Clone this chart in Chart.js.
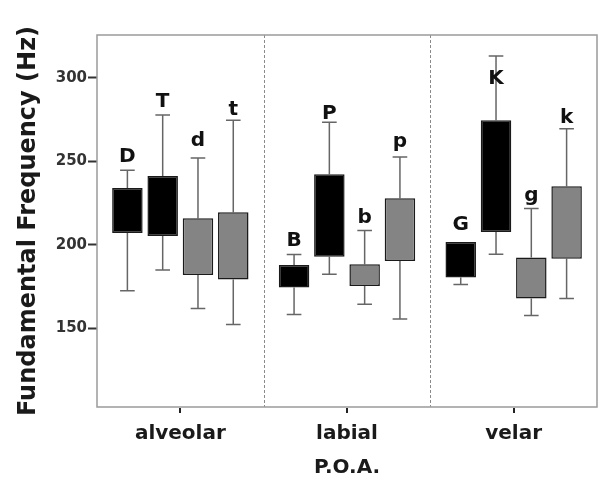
<!DOCTYPE html>
<html>
<head>
<meta charset="utf-8">
<script src="https://cdn.jsdelivr.net/npm/chart.js@4"></script>
<style>
html,body{margin:0;padding:0;background:#fff;}
#wrap{width:600px;height:480px;}
</style>
</head>
<body>
<div id="wrap"><canvas id="c" width="600" height="480"></canvas></div>
<script>
// Categories (place of articulation)
const categories = ['alveolar', 'labial', 'velar'];
const yTickValues = [150, 200, 250, 300];

// Series 1: voiced uppercase (black)
const s1Labels = ['D', 'B', 'G'];
const s1Q1 = [207, 174.5, 180.5];
const s1Q3 = [234, 188, 201.7];
const s1Min = [172.5, 158.3, 176.3];
const s1Max = [244.6, 194.2, 201.7];
const s1LabelAt = [252.5, 202.7, 211.7];

// Series 2: voiceless uppercase (black)
const s2Labels = ['T', 'P', 'K'];
const s2Q1 = [205.3, 192.8, 207.7];
const s2Q3 = [241.2, 242.2, 274.5];
const s2Min = [185, 182.4, 194.4];
const s2Max = [277.6, 273.3, 312.9];
const s2LabelAt = [285.4, 278.5, 299.4];

// Series 3: voiced lowercase (grey)
const s3Labels = ['d', 'b', 'g'];
const s3Q1 = [182, 175.3, 167.9];
const s3Q3 = [215.9, 188.4, 192.4];
const s3Min = [161.9, 164.5, 157.7];
const s3Max = [252, 208.5, 221.7];
const s3LabelAt = [262.5, 216.3, 229.6];

// Series 4: voiceless lowercase (grey)
const s4Labels = ['t', 'p', 'k'];
const s4Q1 = [179.3, 190.4, 191.6];
const s4Q3 = [219.5, 227.9, 235];
const s4Min = [152.4, 155.7, 167.9];
const s4Max = [274.5, 252.5, 269.5];
const s4LabelAt = [280.5, 261.5, 276.1];

const seriesList = [
  {labels: s1Labels, q1: s1Q1, q3: s1Q3, min: s1Min, max: s1Max, at: s1LabelAt, color: '#000000'},
  {labels: s2Labels, q1: s2Q1, q3: s2Q3, min: s2Min, max: s2Max, at: s2LabelAt, color: '#000000'},
  {labels: s3Labels, q1: s3Q1, q3: s3Q3, min: s3Min, max: s3Max, at: s3LabelAt, color: '#848484'},
  {labels: s4Labels, q1: s4Q1, q3: s4Q3, min: s4Min, max: s4Max, at: s4LabelAt, color: '#848484'}
];

const FONT = "'DejaVu Sans', sans-serif";

const boxPlugin = {
  id: 'boxExtras',
  beforeDatasetsDraw(chart) {
    const ctx = chart.ctx;
    const x = chart.scales.x, y = chart.scales.y;
    const area = chart.chartArea;
    ctx.save();
    // dashed category dividers
    ctx.strokeStyle = '#8a8a8a';
    ctx.lineWidth = 1;
    ctx.setLineDash([3, 2]);
    for (let i = 0; i < categories.length - 1; i++) {
      const px = Math.round((x.getPixelForValue(i) + x.getPixelForValue(i + 1)) / 2) + 0.5;
      ctx.beginPath();
      ctx.moveTo(px, area.top);
      ctx.lineTo(px, area.bottom);
      ctx.stroke();
    }
    ctx.setLineDash([]);
    // whiskers
    ctx.strokeStyle = '#666666';
    ctx.lineWidth = 1.5;
    seriesList.forEach((s, di) => {
      const meta = chart.getDatasetMeta(di);
      meta.data.forEach((bar, i) => {
        const cx = bar.x;
        const half = bar.width * 0.24;
        const yMax = y.getPixelForValue(s.max[i]);
        const yMin = y.getPixelForValue(s.min[i]);
        const yQ3 = y.getPixelForValue(s.q3[i]);
        const yQ1 = y.getPixelForValue(s.q1[i]);
        ctx.beginPath();
        ctx.moveTo(cx, yMax); ctx.lineTo(cx, yQ3);
        ctx.moveTo(cx, yQ1); ctx.lineTo(cx, yMin);
        if (s.max[i] > s.q3[i]) { ctx.moveTo(cx - half, yMax); ctx.lineTo(cx + half, yMax); }
        ctx.moveTo(cx - half, yMin); ctx.lineTo(cx + half, yMin);
        ctx.stroke();
      });
    });
    ctx.restore();
  },
  afterDatasetsDraw(chart) {
    const ctx = chart.ctx;
    const x = chart.scales.x, y = chart.scales.y;
    const area = chart.chartArea;
    ctx.save();
    // labels
    ctx.fillStyle = '#111111';
    ctx.font = "bold 20px " + FONT;
    ctx.textAlign = 'center';
    ctx.textBaseline = 'middle';
    seriesList.forEach((s, di) => {
      const meta = chart.getDatasetMeta(di);
      meta.data.forEach((bar, i) => {
        ctx.fillText(s.labels[i], bar.x, y.getPixelForValue(s.at[i]));
      });
    });
    // frame
    ctx.strokeStyle = '#9a9a9a';
    ctx.lineWidth = 1.5;
    ctx.strokeRect(area.left, area.top, area.right - area.left, area.bottom - area.top);
    // x tick marks at category centres
    ctx.strokeStyle = '#222222';
    ctx.lineWidth = 2;
    for (let i = 0; i < categories.length; i++) {
      const px = Math.round(x.getPixelForValue(i));
      ctx.beginPath();
      ctx.moveTo(px, area.bottom + 1);
      ctx.lineTo(px, area.bottom + 6);
      ctx.stroke();
    }
    ctx.restore();
  }
};

const datasets = seriesList.map((s) => ({
  data: s.q1.map((v, i) => [v, s.q3[i]]),
  backgroundColor: s.color,
  borderColor: '#1a1a1a',
  borderWidth: 1.5,
  borderSkipped: false,
  categoryPercentage: 0.847,
  barPercentage: 0.864
}));

new Chart(document.getElementById('c'), {
  type: 'bar',
  data: {labels: categories, datasets: datasets},
  plugins: [boxPlugin],
  options: {
    responsive: false,
    animation: false,
    devicePixelRatio: 1,
    layout: {padding: {top: 35, right: 3, left: 0, bottom: 0}},
    plugins: {legend: {display: false}, tooltip: {enabled: false}},
    scales: {
      x: {
        type: 'category',
        grid: {display: false, drawTicks: false},
        border: {display: false},
        ticks: {color: '#1a1a1a', font: {family: FONT, size: 20, weight: 'bold'}, padding: 15},
        title: {display: true, text: 'P.O.A.', color: '#1a1a1a', font: {family: FONT, size: 20, weight: 'bold'}, padding: {top: 0, bottom: 0}},
        afterFit(s) { s.height = 73; }
      },
      y: {
        type: 'linear',
        min: 103,
        max: 325.5,
        grid: {drawOnChartArea: false, drawTicks: true, tickLength: 9, tickColor: '#333333', tickWidth: 2},
        border: {display: false},
        afterBuildTicks(s) { s.ticks = yTickValues.map(v => ({value: v})); },
        ticks: {color: '#333333', font: {family: FONT, size: 15, weight: 'bold'}, padding: 1},
        title: {display: true, text: 'Fundamental Frequency (Hz)', color: '#1a1a1a', font: {family: FONT, size: 24, weight: 'bold'}, padding: {top: 14, bottom: 0}},
        afterFit(s) { s.width = 97; }
      }
    }
  }
});
</script>
</body>
</html>
